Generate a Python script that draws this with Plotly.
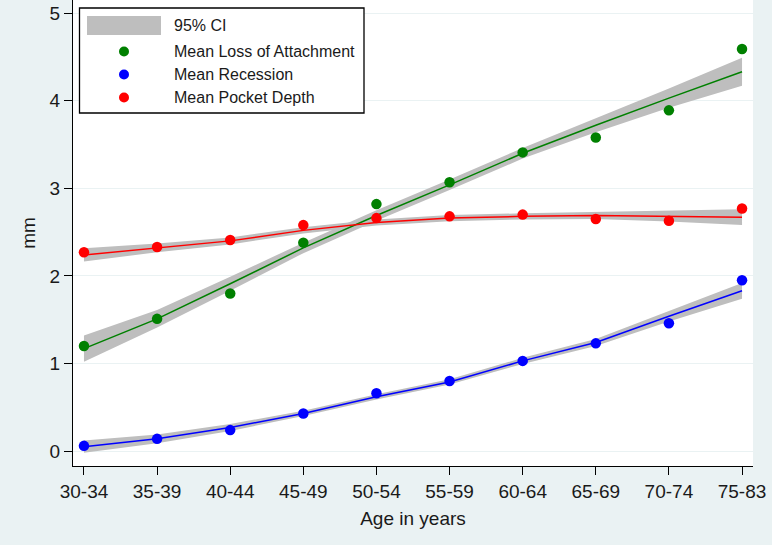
import plotly.graph_objects as go

# ---------------- data ----------------
age_groups = ["30-34", "35-39", "40-44", "45-49", "50-54",
              "55-59", "60-64", "65-69", "70-74", "75-83"]

loa_mean = [1.20, 1.51, 1.80, 2.38, 2.82, 3.07, 3.41, 3.58, 3.89, 4.59]
rec_mean = [0.06, 0.14, 0.24, 0.43, 0.66, 0.80, 1.03, 1.23, 1.46, 1.95]
pd_mean = [2.27, 2.33, 2.41, 2.58, 2.66, 2.68, 2.70, 2.65, 2.63, 2.77]

loa_fit = [1.17, 1.51, 1.91, 2.32, 2.69, 3.04, 3.40, 3.72, 4.03, 4.33]
loa_lo = [1.02, 1.41, 1.83, 2.26, 2.63, 2.98, 3.34, 3.64, 3.92, 4.17]
loa_hi = [1.32, 1.61, 1.99, 2.38, 2.75, 3.10, 3.46, 3.80, 4.14, 4.49]

rec_fit = [0.05, 0.14, 0.27, 0.43, 0.62, 0.79, 1.03, 1.24, 1.54, 1.83]
rec_lo = [-0.02, 0.09, 0.23, 0.40, 0.59, 0.76, 0.995, 1.20, 1.48, 1.74]
rec_hi = [0.12, 0.19, 0.31, 0.46, 0.65, 0.82, 1.065, 1.28, 1.60, 1.92]

pd_fit = [2.24, 2.32, 2.40, 2.52, 2.61, 2.66, 2.68, 2.69, 2.68, 2.67]
pd_lo = [2.165, 2.27, 2.36, 2.485, 2.575, 2.625, 2.645, 2.65, 2.62, 2.58]
pd_hi = [2.315, 2.37, 2.44, 2.555, 2.645, 2.695, 2.715, 2.73, 2.74, 2.76]

tick_vals_y = [0, 1, 2, 3, 4, 5]

# ---------------- styling ----------------
FONT = "Liberation Sans, Arial, sans-serif"
BG = "#EAF2F3"
BAND = "#BEBEBE"
GREEN = "#008000"
BLUE = "#0000FF"
RED = "#FF0000"
TXT = "#1a1a1a"

W, H = 772, 545
ML, MR, MT, MB = 73, 19, 0, 79
PW, PH = W - ML - MR, H - MT - MB


def px(x):
    return (x - ML) / PW


def py(y):
    return (H - MB - y) / PH


fig = go.Figure()

# CI bands
for lo, hi in [(loa_lo, loa_hi), (rec_lo, rec_hi), (pd_lo, pd_hi)]:
    fig.add_trace(go.Scatter(
        x=age_groups + age_groups[::-1],
        y=hi + lo[::-1],
        fill="toself", fillcolor=BAND, line=dict(width=0, color=BAND),
        mode="lines", hoverinfo="skip", showlegend=False))

# fitted lines
for fit, col in [(loa_fit, GREEN), (rec_fit, BLUE), (pd_fit, RED)]:
    fig.add_trace(go.Scatter(x=age_groups, y=fit, mode="lines",
                             line=dict(color=col, width=1.5), showlegend=False))

# means
for vals, col, name in [(loa_mean, GREEN, "Mean Loss of Attachment"),
                        (rec_mean, BLUE, "Mean Recession"),
                        (pd_mean, RED, "Mean Pocket Depth")]:
    fig.add_trace(go.Scatter(x=age_groups, y=vals, mode="markers", name=name,
                             marker=dict(color=col, size=10.5, symbol="circle",
                                         line=dict(width=0)),
                             showlegend=False))

# ---------------- custom legend ----------------
shapes = []
annotations = []
shapes.append(dict(type="rect", xref="paper", yref="paper",
                   x0=px(79.5), x1=px(364), y0=py(8), y1=py(113),
                   fillcolor="white", line=dict(color="black", width=1.3),
                   layer="above"))
shapes.append(dict(type="rect", xref="paper", yref="paper",
                   x0=px(87), x1=px(161), y0=py(16), y1=py(35),
                   fillcolor=BAND, line=dict(width=0), layer="above"))
annotations.append(dict(text="95% CI", xref="paper", yref="paper",
                        x=px(172), y=py(25.5), xanchor="left", yanchor="middle",
                        showarrow=False, font=dict(family=FONT, size=16, color=TXT)))
for label, col, yy in [("Mean Loss of Attachment", GREEN, 51.5),
                       ("Mean Recession", BLUE, 74.5),
                       ("Mean Pocket Depth", RED, 97.5)]:
    shapes.append(dict(type="circle", xref="paper", yref="paper",
                       xsizemode="pixel", ysizemode="pixel",
                       xanchor=px(124), yanchor=py(yy),
                       x0=-5, x1=5, y0=-5, y1=5,
                       fillcolor=col, line=dict(width=0), layer="above"))
    annotations.append(dict(text=label, xref="paper", yref="paper",
                            x=px(172), y=py(yy), xanchor="left", yanchor="middle",
                            showarrow=False,
                            font=dict(family=FONT, size=16, color=TXT)))

fig.update_layout(
    width=W, height=H,
    margin=dict(l=ML, r=MR, t=MT, b=MB, autoexpand=False),
    paper_bgcolor=BG, plot_bgcolor="white",
    font=dict(family=FONT, size=19, color=TXT),
    shapes=shapes, annotations=annotations,
    showlegend=False,
    xaxis=dict(
        type="category", range=[-0.15, 9.15], automargin=False,
        showgrid=False, zeroline=False,
        showline=True, linecolor="black", linewidth=1.3,
        ticks="outside", ticklen=8, tickcolor="black", tickwidth=1.3,
        tickfont=dict(family=FONT, size=19, color=TXT),
        title=dict(text="Age in years", standoff=10,
                   font=dict(family=FONT, size=19, color=TXT)),
    ),
    yaxis=dict(
        range=[-0.17, 5.15], tickvals=tick_vals_y, automargin=False,
        showgrid=True, gridcolor=BG, gridwidth=1, zeroline=False,
        showline=True, linecolor="black", linewidth=1.3,
        ticks="outside", ticklen=8, tickcolor="black", tickwidth=1.3,
        tickfont=dict(family=FONT, size=19, color=TXT),
        title=dict(text="mm", standoff=8,
                   font=dict(family=FONT, size=19, color=TXT)),
    ),
)

fig.write_html("out.html",
               config={"displayModeBar": False},
               post_script="document.body.style.margin='0';"
                           "document.body.style.padding='0';")
